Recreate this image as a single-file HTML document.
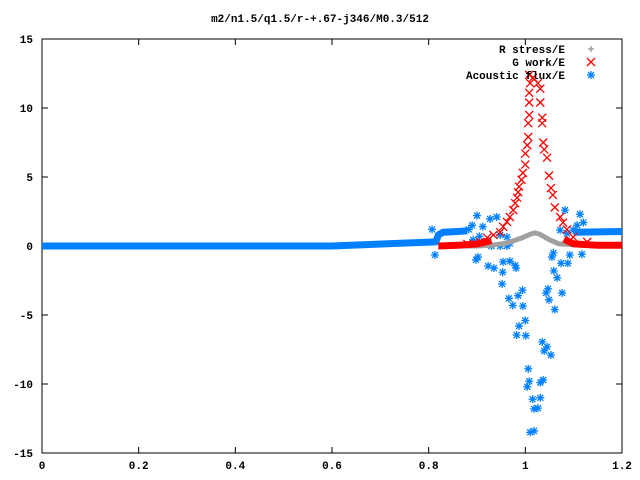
<!DOCTYPE html>
<html><head><meta charset="utf-8"><style>
body{margin:0;background:#fff}
svg{display:block;font-family:"Liberation Mono",monospace;font-size:11px;font-weight:bold}
</style></head><body>
<svg id="c" width="640" height="480" xmlns="http://www.w3.org/2000/svg">
<text x="320" y="22" text-anchor="middle">m2/n1.5/q1.5/r-+.67-j346/M0.3/512</text>
<g id="axes"></g>
<g id="marks"></g>
<g id="legend"></g>
</svg>
<script>
const xTicks=[0,0.2,0.4,0.6,0.8,1,1.2];
const xTickLabels=["0","0.2","0.4","0.6","0.8","1","1.2"];
const yTicks=[-15,-10,-5,0,5,10,15];
const yTickLabels=["-15","-10","-5","0","5","10","15"];
// dense bands (drawn as thick continuous runs of markers)
const fluxBandX=[0,0.3,0.6,0.815,0.82,0.83,0.86,0.88];
const fluxBandY=[0,0,0,0.3,0.8,1.0,1.05,1.1];
const fluxBand2X=[1.1,1.15,1.2];
const fluxBand2Y=[1.0,1.02,1.05];
const stressX=[0.82,0.9,0.93,0.96,0.99,1.01,1.02,1.03,1.05,1.07,1.1,1.2];
const stressY=[0,0,0.05,0.2,0.55,0.85,0.95,0.85,0.45,0.15,0.1,0.1];
const workBandX=[0.82,0.86,0.9,0.93];
const workBandY=[0,0.05,0.15,0.4];
const workBand2X=[1.08,1.1,1.15,1.2];
const workBand2Y=[0.5,0.15,0.05,0.05];
// scattered points
const workX=[0.88,0.907,0.921,0.934,0.948,0.954,0.962,0.968,0.975,0.979,0.983,0.985,0.987,0.992,0.995,1.0,1.0,1.004,1.006,1.006,1.008,1.008,1.008,1.01,1.008,1.016,1.026,1.031,1.031,1.035,1.035,1.037,1.039,1.045,1.049,1.053,1.057,1.061,1.072,1.078,1.086,1.099,1.128];
const workY=[0.15,0.3,0.6,0.8,1.0,1.4,1.75,2.1,2.6,3.1,3.5,3.9,4.3,4.8,5.3,5.9,6.7,7.3,7.9,8.9,9.5,10.4,11.1,11.8,12.4,12.2,11.8,11.4,10.4,9.3,8.9,7.5,7.0,6.4,5.1,4.2,3.7,2.8,2.1,1.7,1.2,0.65,0.3];
const fluxX=[0.807,0.813,0.9,0.898,0.902,0.923,0.935,0.927,0.941,0.953,0.952,0.954,0.968,0.979,0.981,0.966,0.974,0.985,0.994,0.995,1.0,0.987,0.982,1.001,1.006,1.008,1.004,1.015,1.018,1.026,1.031,1.031,1.037,1.01,1.018,1.035,1.045,1.039,1.053,1.043,1.047,1.049,1.061,1.076,1.059,1.066,1.074,1.088,1.055,1.058,1.092,1.117,1.082,1.113,1.12,1.107,1.099,1.072,1.086,0.89,0.883,0.912,0.892,0.905,0.948,0.962,0.968,0.93,0.948,0.962,0.915];
const fluxY=[1.2,-0.65,2.2,-1.0,-0.8,-1.45,-1.6,1.96,2.1,-1.9,-2.75,-1.15,-1.1,-1.4,-1.6,-3.8,-4.3,-3.6,-3.2,-4.35,-5.4,-5.8,-6.45,-6.5,-8.9,-9.8,-10.2,-11.1,-11.8,-11.75,-11.0,-9.9,-9.7,-13.5,-13.4,-6.95,-7.3,-7.6,-7.9,-3.4,-3.1,-3.9,-4.6,-3.4,-1.8,-2.3,-1.25,-1.25,-0.8,-0.5,-0.65,-0.6,2.6,2.3,1.7,1.5,1.15,1.15,0.9,1.5,1.2,1.4,0.45,0.7,0.8,0.65,0.2,0,0,0,0.3];

const X=v=>42+v*(580/1.2);
const Y=v=>246-v*(414/30);
const NS="http://www.w3.org/2000/svg";
function mk(t,a,p){const e=document.createElementNS(NS,t);for(const k in a)e.setAttribute(k,a[k]);p.appendChild(e);return e;}
const axes=document.getElementById('axes'),marks=document.getElementById('marks'),leg=document.getElementById('legend');
const frame=mk('rect',{x:42,y:39,width:580,height:414,fill:'none',stroke:'#000','stroke-width':1},axes);


xTicks.forEach((t,i)=>{
  const x=X(t);
  mk('path',{d:`M${x} 453v-6M${x} 39v6`,stroke:'#000'},axes);
  const tx=mk('text',{x:x,y:469,'text-anchor':'middle'},axes);tx.textContent=xTickLabels[i];
  
  
});
yTicks.forEach((t,i)=>{
  const y=Y(t);
  mk('path',{d:`M42 ${y}h6M622 ${y}h-6`,stroke:'#000'},axes);
  const tx=mk('text',{x:33,y:y+4,'text-anchor':'end'},axes);tx.textContent=yTickLabels[i];
  
  
});
function star(g,x,y,c){mk('path',{d:`M${x-4} ${y}h8M${x} ${y-4}v8M${x-3} ${y-3}l6 6M${x-3} ${y+3}l6 -6`,stroke:c,'stroke-width':1.3},g);}
function cross(g,x,y,c){mk('path',{d:`M${x-4} ${y-4}l8 8M${x-4} ${y+4}l8 -8`,stroke:c,'stroke-width':1.3},g);}
function plus(g,x,y,c){mk('path',{d:`M${x-3} ${y}h6M${x} ${y-3}v6`,stroke:c,'stroke-width':1.5},g);}
function band(g,xs,ys,c,w){const d=xs.map((v,i)=>(i?'L':'M')+X(v)+' '+Y(ys[i])).join('');mk('path',{d:d,stroke:c,'stroke-width':w,fill:'none','stroke-linejoin':'round'},g);}
const gF=mk('g',{},marks);
const gS=mk('g',{},marks);
const gW=mk('g',{},marks);
band(gF,fluxBandX,fluxBandY,'#0080ff',7);
band(gF,fluxBand2X,fluxBand2Y,'#0080ff',7);
fluxX.forEach((v,i)=>star(gF,X(v),Y(fluxY[i]),'#0080ff'));
band(gS,stressX,stressY,'#a0a0a0',5);
band(gW,workBandX,workBandY,'#ff0000',7);
band(gW,workBand2X,workBand2Y,'#ff0000',7);
workX.forEach((v,i)=>cross(gW,X(v),Y(workY[i]),'#ff0000'));
const names=[["R stress/E",'#a0a0a0',plus,'legend-r-stress'],["G work/E",'#ff0000',cross,'legend-g-work'],["Acoustic flux/E",'#0080ff',star,'legend-acoustic-flux']];
names.forEach((n,i)=>{
  const y=49+i*13;
  const t=mk('text',{x:565,y:y+4,'text-anchor':'end'},leg);t.textContent=n[0];
  
  
  n[2](leg,591,y,n[1]);
});
</script>
</body></html>
